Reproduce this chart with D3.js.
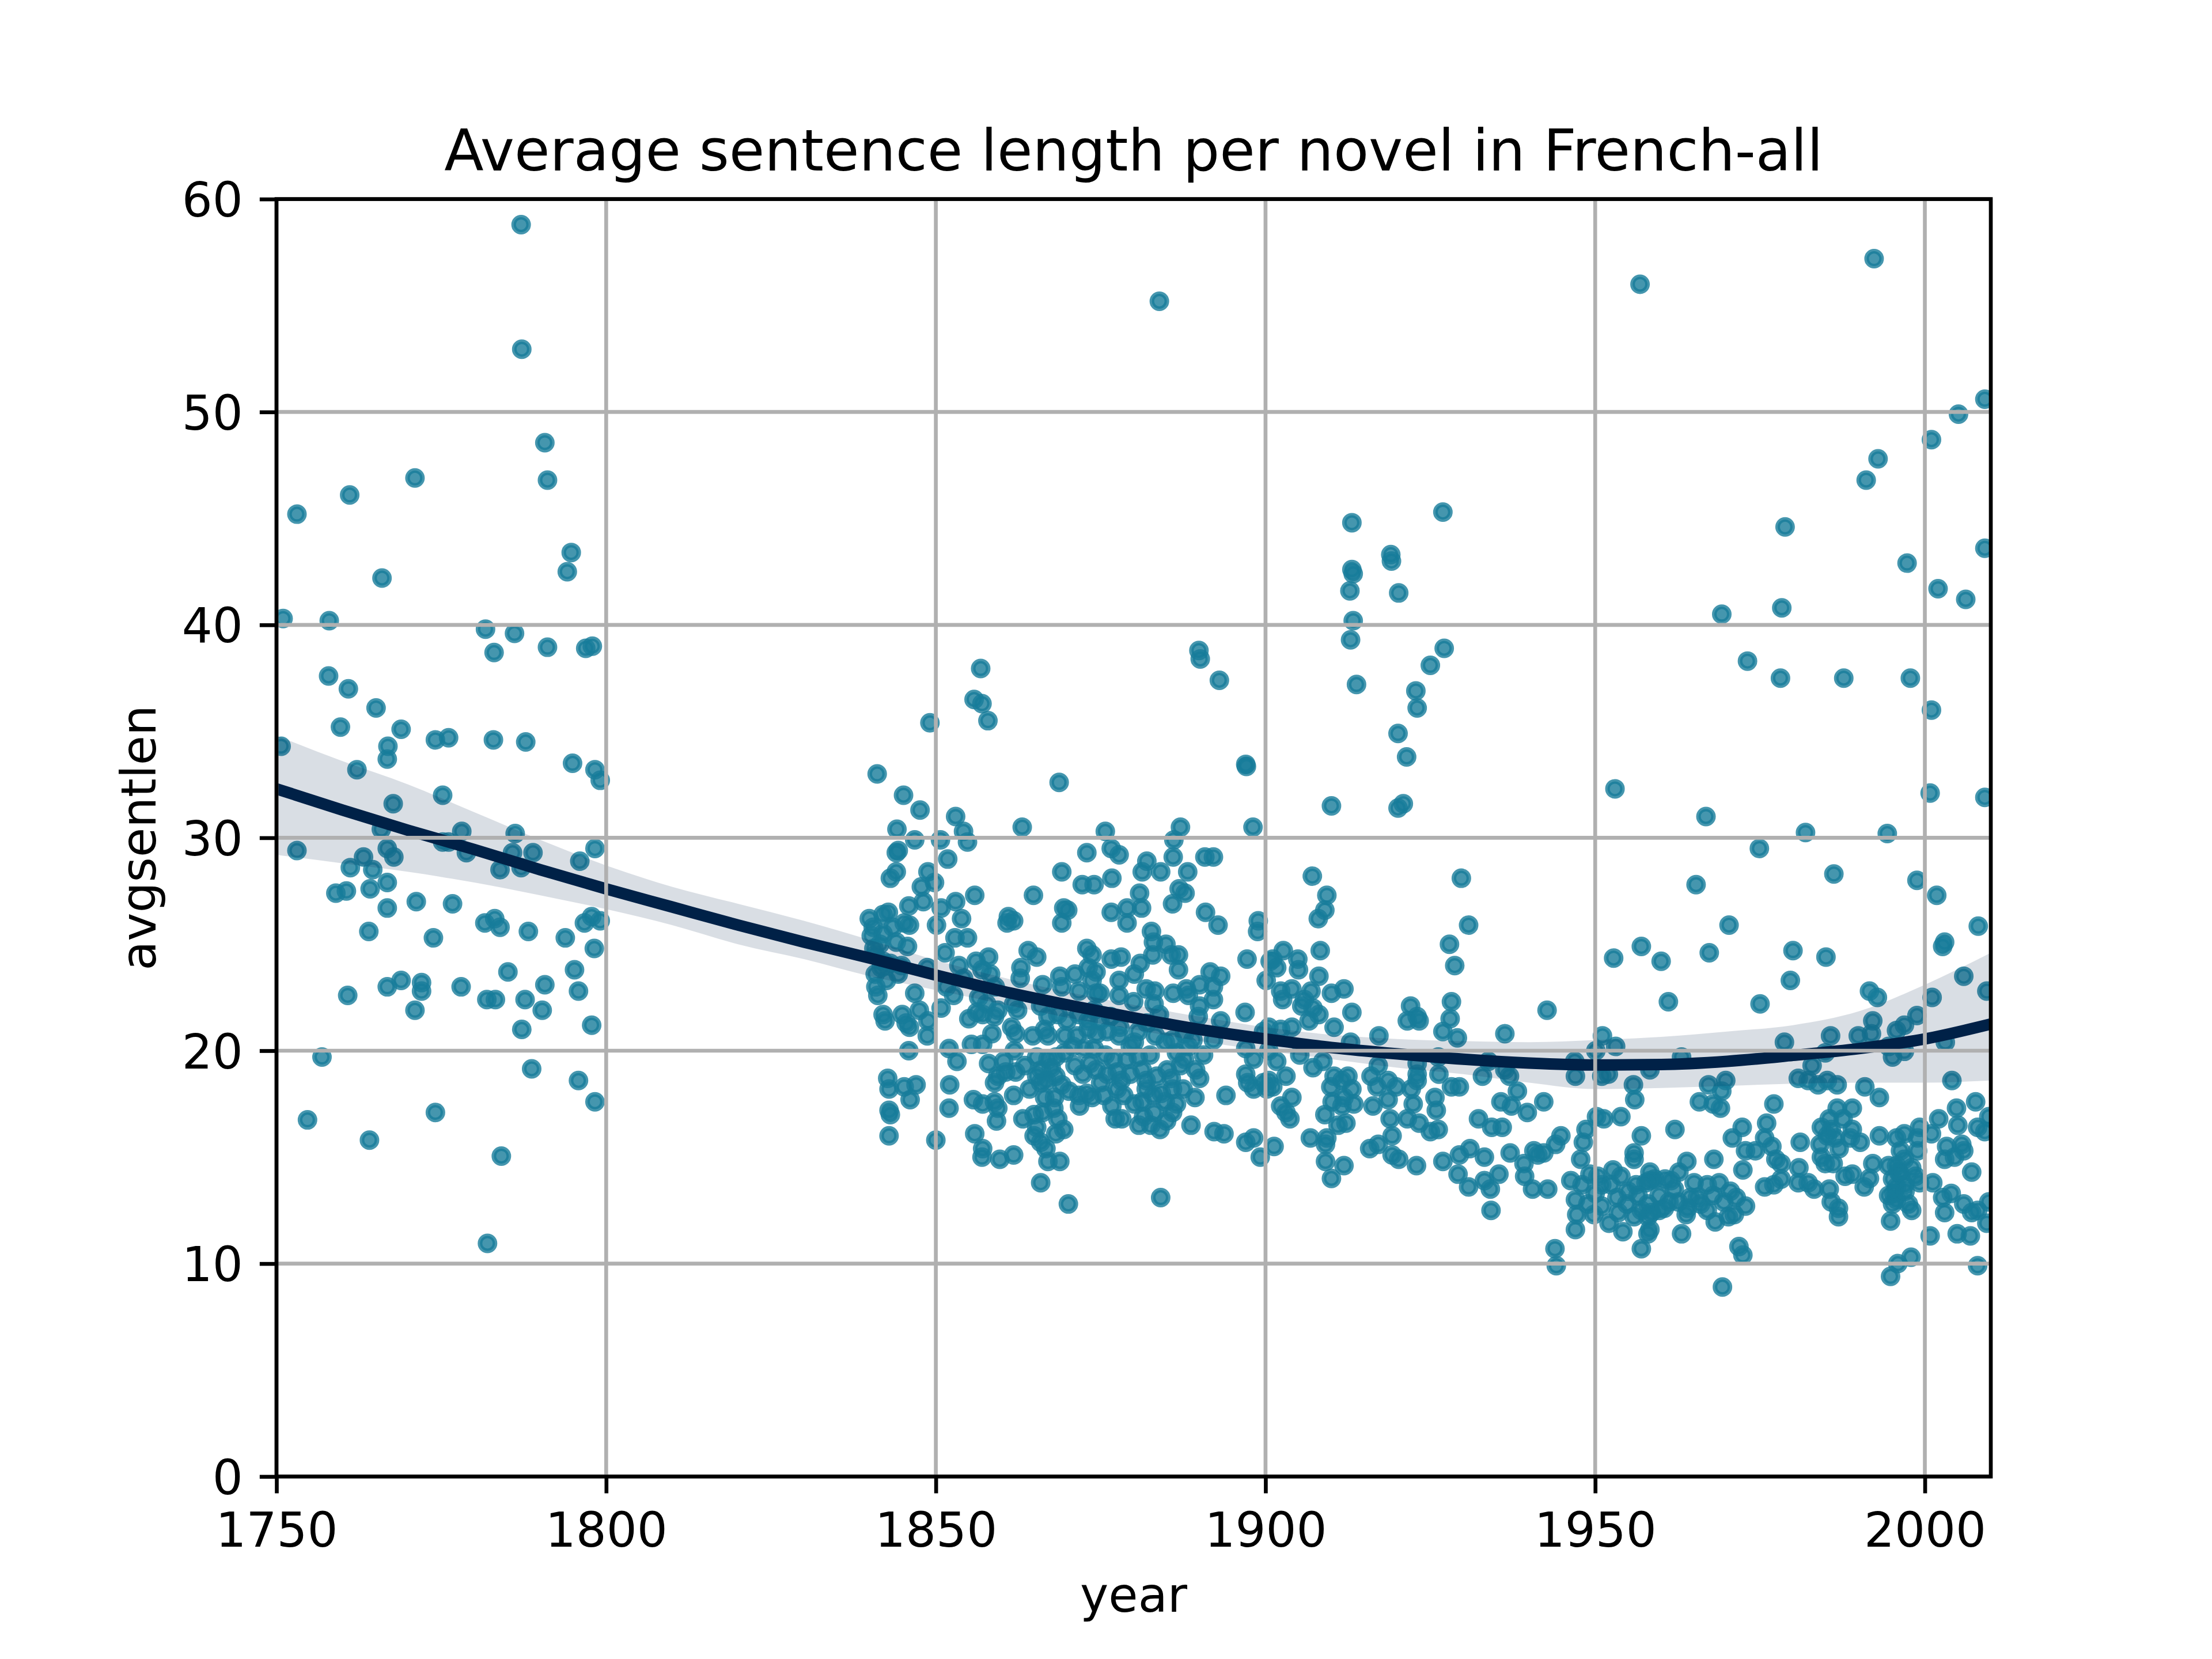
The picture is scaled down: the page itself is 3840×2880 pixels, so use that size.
<!DOCTYPE html>
<html>
<head>
<meta charset="utf-8">
<script src="https://cdn.jsdelivr.net/npm/d3@7"></script>
<style>
  html, body { margin: 0; padding: 0; background: #fff; }
  text { font-family: "DejaVu Sans", sans-serif; fill: #000; }
</style>
</head>
<body>
<div id="chart"></div>
<script>
// [year, avgsentlen] per novel
const novels1750 = [
  [1787.1,58.8],[1787.2,52.95],[1790.7,48.56],[1791.1,46.8],[1761.1,46.1],[1753.1,45.2],[1771.0,46.9],[1794.7,43.4],
  [1794.1,42.5],[1766.0,42.2],[1751.0,40.3],[1758.0,40.2],[1781.7,39.8],[1786.1,39.6],[1783.0,38.7],[1791.1,38.95],
  [1796.9,38.9],[1797.9,39.0],[1757.9,37.6],[1760.9,37.0],[1765.1,36.1],[1759.7,35.2],[1768.9,35.1],[1750.7,34.3],
  [1766.9,34.3],[1766.8,33.7],[1774.1,34.6],[1776.1,34.7],[1782.9,34.6],[1787.8,34.5],[1762.2,33.2],[1794.9,33.5],
  [1798.3,33.2],[1799.1,32.7],[1775.2,32.0],[1767.7,31.6],[1765.9,30.4],[1778.1,30.3],[1786.2,30.2],[1775.2,29.8],
  [1776.1,29.8],[1753.1,29.4],[1766.8,29.5],[1767.8,29.1],[1778.8,29.3],[1785.8,29.3],[1787.1,28.6],[1788.9,29.3],
  [1798.3,29.5],[1783.9,28.5],[1796.0,28.9],[1761.2,28.6],[1763.2,29.1],[1764.6,28.5],[1760.6,27.5],[1759.0,27.4],
  [1764.2,27.6],[1766.8,27.9],[1766.8,26.7],[1771.2,27.0],[1776.7,26.9],[1764.0,25.6],[1773.8,25.3],[1781.6,26.0],
  [1783.1,26.2],[1783.9,25.8],[1788.2,25.6],[1793.8,25.3],[1797.8,26.3],[1796.7,26.0],[1799.1,26.1],[1798.2,24.8],
  [1785.1,23.7],[1760.8,22.6],[1766.8,23.0],[1768.9,23.3],[1772.0,23.2],[1772.0,22.8],[1771.0,21.9],[1778.0,23.0],
  [1781.9,22.4],[1783.2,22.4],[1787.7,22.4],[1790.7,23.1],[1790.3,21.9],[1787.2,21.0],[1795.2,23.8],[1795.8,22.8],
  [1797.8,21.2],[1756.9,19.7],[1788.7,19.15],[1795.8,18.6],[1798.3,17.6],[1754.7,16.75],[1774.1,17.1],[1764.1,15.8],
  [1784.1,15.05],[1782.0,10.95]
]

const novels1840 = [
  [1841.1,33.0],[1845.1,32.0],[1847.6,31.3],[1853.0,31.0],[1854.2,30.3],[1854.8,29.8],[1863.1,30.5],[1868.7,32.6],
  [1844.1,30.4],[1846.8,29.9],[1850.7,29.9],[1844.0,29.3],[1844.3,29.4],[1872.9,29.3],[1851.8,29.0],[1844.0,28.4],
  [1843.1,28.1],[1848.8,28.4],[1847.8,27.7],[1849.8,27.9],[1869.1,28.4],[1872.2,27.8],[1855.9,27.3],[1864.8,27.3],
  [1848.1,27.0],[1845.9,26.8],[1850.8,26.7],[1853.0,27.0],[1853.9,26.2],[1861.0,26.3],[1861.8,26.1],[1860.8,26.0],
  [1869.4,26.7],[1870.0,26.6],[1869.1,26.0],[1839.9,26.2],[1842.0,26.4],[1842.8,26.5],[1845.2,26.0],[1846.0,25.9],
  [1850.1,25.9],[1852.9,25.3],[1854.8,25.3],[1840.5,25.8],[1842.0,25.5],[1844.0,25.1],[1845.7,24.9],[1851.4,24.6],
  [1856.1,24.2],[1858.0,24.4],[1857.0,23.8],[1858.3,23.6],[1864.0,24.7],[1865.3,24.4],[1862.9,23.9],[1862.8,23.4],
  [1872.9,24.8],[1873.7,24.5],[1840.6,24.8],[1840.8,24.5],[1842.0,24.2],[1843.1,24.1],[1840.8,23.6],[1842.5,23.3],
  [1844.3,23.6],[1841.7,23.9],[1840.9,23.0],[1841.2,22.6],[1846.8,22.7],[1848.7,23.9],[1851.6,23.0],[1852.7,22.6],
  [1854.2,23.4],[1856.5,22.5],[1857.7,22.2],[1859.4,21.9],[1858.9,21.6],[1856.2,21.8],[1857.1,21.7],[1861.8,22.2],
  [1862.4,21.9],[1861.5,21.1],[1862.1,20.8],[1866.2,23.1],[1868.8,23.5],[1869.1,23.0],[1871.1,23.6],[1871.7,22.8],
  [1873.1,23.9],[1873.7,23.3],[1865.9,22.1],[1867.0,21.6],[1868.5,21.7],[1869.9,21.4],[1871.7,21.7],[1873.1,21.4],
  [1864.7,20.7],[1867.0,20.7],[1869.6,20.7],[1871.4,20.7],[1873.1,21.0],[1842.0,21.7],[1844.9,21.7],[1845.5,21.3],
  [1846.0,21.1],[1842.3,21.4],[1848.8,21.4],[1848.7,20.7],[1845.9,20.0],[1852.0,20.1],[1853.2,19.5],[1855.4,20.3],
  [1857.1,20.3],[1858.0,19.4],[1861.9,20.0],[1860.6,19.0],[1862.1,19.0],[1859.4,18.8],[1858.9,18.5],[1861.8,17.9],
  [1865.3,19.7],[1867.0,19.6],[1868.2,19.7],[1865.3,18.8],[1866.8,18.6],[1868.2,18.8],[1869.1,18.4],[1865.9,18.5],
  [1871.1,19.3],[1872.3,18.9],[1873.4,19.4],[1871.7,17.9],[1872.9,18.0],[1842.7,18.7],[1842.9,18.2],[1845.2,18.3],
  [1847.0,18.4],[1846.1,17.7],[1842.9,17.2],[1843.1,17.0],[1852.1,18.4],[1852.0,17.3],[1855.7,17.7],[1857.1,17.5],
  [1858.9,17.6],[1859.4,17.3],[1859.2,16.7],[1863.2,16.8],[1864.9,17.0],[1866.2,17.1],[1867.9,17.3],[1868.5,16.8],
  [1869.4,16.3],[1868.2,16.1],[1865.3,16.4],[1864.9,16.0],[1865.9,15.7],[1866.7,15.4],[1867.0,14.8],[1868.8,14.8],
  [1871.8,17.4],[1842.9,16.0],[1850.0,15.8],[1855.9,16.1],[1857.1,15.4],[1857.0,15.0],[1859.7,14.9],[1861.8,15.1],
  [1865.9,13.8],[1870.1,12.8],[1867.5,19.2],[1866.0,19.1],[1869.5,19.9],[1864.2,18.2],[1870.2,18.1],[1841.5,25.0],
  [1843.5,25.8],[1840.2,25.4],[1844.8,24.0],[1860.3,19.5],[1858.5,20.8],[1855.0,21.5],[1850.8,22.0],[1847.5,21.9],
  [1853.5,24.0],[1859.0,23.0],[1866.5,21.0],[1870.8,20.2],[1872.5,20.1],[1863.5,19.3],[1868.0,17.8],[1866.5,17.8],
  [1856.8,37.95],[1855.8,36.5],[1857.0,36.3],[1857.9,35.5],[1849.1,35.4]
]

const novels1875 = [
  [1875.7,30.3],[1887.1,30.5],[1898.1,30.5],[1876.6,29.5],[1877.8,29.2],[1886.1,29.9],[1886.0,29.1],[1890.8,29.1],
  [1892.1,29.1],[1882.0,28.9],[1881.3,28.4],[1884.1,28.4],[1888.2,28.4],[1876.7,28.1],[1874.0,27.8],[1880.9,27.4],
  [1881.2,26.7],[1886.9,27.6],[1887.8,27.4],[1885.9,26.9],[1876.6,26.5],[1879.0,26.7],[1879.0,26.0],[1890.9,26.5],
  [1892.8,25.9],[1898.9,26.1],[1898.8,25.6],[1882.7,25.6],[1883.0,25.1],[1882.9,24.5],[1884.9,25.0],[1885.7,24.5],
  [1886.8,24.5],[1886.8,23.8],[1874.3,23.7],[1876.6,24.3],[1878.1,24.4],[1881.0,24.1],[1880.1,23.6],[1877.8,23.3],
  [1877.8,22.6],[1897.2,24.3],[1900.7,24.2],[1900.1,23.3],[1891.6,23.7],[1893.2,23.5],[1890.0,23.1],[1892.1,23.0],
  [1892.1,22.4],[1881.9,22.9],[1883.2,22.8],[1883.1,22.2],[1886.0,22.7],[1888.0,22.9],[1888.3,22.6],[1874.3,22.7],
  [1874.9,22.7],[1880.0,22.3],[1890.0,22.1],[1889.8,21.6],[1883.9,21.7],[1893.2,21.4],[1896.9,21.8],[1874.0,21.9],
  [1874.9,21.4],[1874.4,20.8],[1876.0,20.9],[1877.9,21.1],[1877.8,20.7],[1880.7,20.9],[1880.1,20.4],[1883.3,20.7],
  [1884.8,20.4],[1885.9,20.5],[1887.7,20.8],[1888.3,20.2],[1890.6,19.8],[1892.1,20.5],[1899.7,20.9],[1897.0,20.1],
  [1898.2,19.6],[1874.0,20.1],[1875.7,19.8],[1876.9,19.6],[1879.0,19.6],[1880.7,19.7],[1874.3,19.1],[1876.0,18.9],
  [1877.5,19.0],[1878.1,18.6],[1879.5,18.9],[1881.3,19.1],[1881.9,18.6],[1885.1,19.1],[1885.7,18.7],[1887.1,19.3],
  [1887.7,19.6],[1890.0,18.7],[1889.4,19.1],[1897.0,18.9],[1897.3,18.5],[1899.7,18.5],[1898.2,18.2],[1873.7,17.8],
  [1875.5,17.9],[1877.5,18.2],[1880.1,17.5],[1881.3,17.6],[1881.9,18.2],[1883.0,17.9],[1884.2,18.0],[1884.8,17.6],
  [1885.9,18.2],[1886.5,17.5],[1876.7,17.4],[1877.2,16.8],[1878.2,16.8],[1880.8,16.5],[1882.6,16.5],[1883.1,17.1],
  [1885.0,16.7],[1885.9,17.1],[1889.3,17.8],[1894.0,17.9],[1888.7,16.5],[1892.2,16.2],[1893.7,16.1],[1897.0,15.7],
  [1898.2,15.9],[1899.2,15.0],[1884.1,13.1],[1900.5,18.6],[1900.2,18.2],[1879.5,20.2],[1882.5,19.8],[1886.5,19.9],
  [1878.5,17.9],[1883.5,18.8],[1887.5,18.2],[1876.5,21.6],[1882.0,21.3],[1889.0,20.5],[1884.0,16.3],[1881.5,16.9],
  [1875.0,18.5],
  [1883.9,55.2],[1889.9,38.8],[1890.1,38.4],[1893.0,37.4],[1897.0,33.45],[1897.1,33.35]
]

const novels1900 = [
  [1926.9,45.3],[1913.1,44.8],[1919.0,43.3],[1919.1,43.0],[1913.1,42.6],[1913.3,42.4],[1912.8,41.6],[1920.2,41.5],
  [1913.3,40.2],[1912.9,39.3],[1927.1,38.9],[1925.0,38.1],[1913.8,37.2],[1922.8,36.9],[1923.0,36.1],[1920.1,34.9],
  [1921.4,33.8],[1910.0,31.5],[1920.1,31.4],[1920.9,31.6],[1907.1,28.2],[1909.3,27.3],[1909.0,26.6],[1908.0,26.2],
  [1929.7,28.1],[1930.8,25.9],[1927.9,25.0],[1928.7,24.0],[1902.7,24.7],[1904.9,24.3],[1905.0,23.8],[1908.3,24.7],
  [1908.1,23.5],[1901.1,24.3],[1901.7,23.9],[1902.3,22.8],[1904.0,22.9],[1902.6,22.4],[1905.9,22.4],[1906.9,22.8],
  [1910.0,22.7],[1911.9,22.9],[1905.5,22.1],[1907.2,22.0],[1908.1,21.7],[1913.1,21.8],[1906.6,21.4],[1910.4,21.1],
  [1900.5,21.1],[1902.3,21.0],[1904.0,21.1],[1922.0,22.1],[1923.0,21.6],[1921.5,21.4],[1923.3,21.4],[1928.2,22.3],
  [1928.0,21.5],[1926.9,20.9],[1929.1,20.6],[1917.2,20.7],[1936.3,20.8],[1942.7,21.9],[1912.9,20.4],[1900.5,20.0],
  [1901.7,19.5],[1903.1,18.8],[1905.2,19.8],[1907.2,19.2],[1908.7,19.5],[1901.1,18.3],[1910.4,18.8],[1911.6,18.6],
  [1912.5,18.8],[1913.1,18.2],[1911.9,17.8],[1909.9,18.3],[1910.1,17.6],[1911.6,17.4],[1913.4,17.5],[1916.0,18.8],
  [1917.1,19.3],[1916.9,18.3],[1918.6,18.6],[1919.8,18.3],[1916.3,17.4],[1918.6,17.7],[1922.1,18.2],[1922.4,17.5],
  [1923.0,19.4],[1923.0,18.9],[1923.0,18.6],[1926.2,19.7],[1926.3,18.9],[1928.2,18.3],[1929.4,18.3],[1925.7,17.8],
  [1925.9,17.2],[1933.8,19.5],[1932.9,18.8],[1936.3,19.1],[1937.0,18.8],[1938.2,18.1],[1935.7,17.6],[1937.3,17.4],
  [1942.2,17.6],[1939.7,17.1],[1904.0,17.8],[1902.3,17.4],[1903.1,17.1],[1903.7,16.8],[1909.0,17.0],[1912.2,16.6],
  [1911.0,16.5],[1906.8,15.9],[1909.3,15.9],[1909.1,15.6],[1901.3,15.5],[1918.9,16.8],[1919.2,16.0],[1921.5,16.8],
  [1923.3,16.6],[1925.0,16.2],[1926.2,16.3],[1915.8,15.4],[1917.1,15.6],[1919.2,15.1],[1920.2,14.9],[1922.9,14.6],
  [1909.1,14.8],[1910.0,14.0],[1911.9,14.6],[1926.9,14.8],[1929.4,15.1],[1931.0,15.4],[1929.2,14.2],[1930.8,13.6],
  [1932.3,16.8],[1934.3,16.4],[1935.9,16.4],[1933.2,15.0],[1933.2,13.9],[1934.1,13.5],[1934.2,12.5],[1935.4,14.2],
  [1937.1,15.2],[1939.2,14.7],[1939.3,14.1],[1940.7,15.3],[1941.3,15.1],[1940.5,13.5],[1942.8,13.5]
]

const novels1945 = [
  [1970.3,25.9],[1957.0,24.9],[1952.8,24.35],[1960.0,24.2],[1967.3,24.6],[1961.1,22.3],[1975.0,22.2],[1951.1,20.7],
  [1950.1,20.0],[1953.1,20.2],[1946.9,19.5],[1947.0,18.8],[1951.0,18.8],[1952.0,18.9],[1963.1,19.7],[1958.3,19.1],
  [1955.8,18.4],[1956.0,17.7],[1967.2,18.4],[1969.8,18.6],[1969.2,18.1],[1965.8,17.6],[1967.9,17.5],[1969.0,17.3],
  [1977.1,17.5],[1950.2,16.9],[1951.3,16.8],[1953.9,16.9],[1948.6,16.3],[1944.8,16.0],[1944.0,15.6],[1948.2,15.7],
  [1942.2,15.2],[1957.0,16.0],[1962.1,16.3],[1970.8,15.9],[1972.3,16.4],[1976.0,16.6],[1975.7,15.9],[1972.8,15.3],
  [1974.3,15.3],[1955.9,15.2],[1955.9,14.9],[1947.8,14.9],[1968.0,14.9],[1963.9,14.8],[1972.4,14.4],[1958.3,14.3],
  [1958.3,13.9],[1949.2,14.2],[1950.4,14.1],[1952.7,14.4],[1953.9,14.1],[1946.3,13.9],[1959.0,13.97],[1960.6,13.97],
  [1962.7,14.3],[1965.0,13.8],[1967.0,13.7],[1968.8,13.8],[1970.5,13.4],[1975.7,13.6],[1948.0,13.7],[1951.0,13.7],
  [1952.4,13.7],[1956.2,13.7],[1957.7,13.8],[1947.0,13.0],[1948.9,12.8],[1951.0,12.7],[1953.3,13.1],[1954.8,12.8],
  [1956.5,13.2],[1958.0,12.8],[1959.7,13.2],[1961.2,12.9],[1962.6,12.9],[1964.4,13.1],[1965.5,13.1],[1967.9,13.2],
  [1971.4,13.1],[1972.8,12.7],[1947.2,12.3],[1949.8,12.3],[1952.1,11.9],[1954.2,11.5],[1955.9,12.2],[1958.0,12.2],
  [1958.5,12.4],[1959.7,12.5],[1963.8,12.3],[1967.0,12.5],[1968.2,11.96],[1970.2,12.2],[1971.1,12.3],[1947.0,11.6],
  [1958.0,11.4],[1958.3,11.6],[1963.1,11.4],[1957.0,10.7],[1943.9,10.7],[1944.1,9.9],[1971.8,10.8],[1972.4,10.4],
  [1969.3,8.9],[1955.0,13.4],[1957.0,12.5],[1960.5,12.6],[1962.0,13.5],[1966.0,12.8],[1969.5,12.9],[1953.5,12.4],
  [1950.0,13.3],[1961.5,13.9],[1964.0,12.6],
  [1956.8,56.0],[1969.2,40.5],[1973.1,38.3],[1953.0,32.3],[1966.8,31.0],[1974.9,29.5],[1965.3,27.8]
]

const novels1980 = [
  [2001.8,27.3],[2008.1,25.85],[2003.0,25.1],[2002.7,24.9],[1980.0,24.7],[1985.0,24.4],[1979.6,23.3],[1991.6,22.8],
  [1992.8,22.5],[2005.9,23.5],[2001.1,22.5],[2009.4,22.8],[1992.1,21.4],[1998.8,21.65],[1996.9,21.2],[1995.7,20.95],
  [1985.7,20.7],[1989.9,20.7],[1991.9,20.8],[1978.7,20.4],[2003.1,20.4],[1984.9,19.9],[1995.1,19.7],[1996.9,19.97],
  [1994.5,20.2],[1982.9,19.3],[1980.8,18.7],[1982.3,18.6],[1983.8,18.4],[1985.2,18.6],[1986.7,18.4],[1990.9,18.3],
  [1993.1,17.8],[2004.1,18.6],[2004.8,17.3],[2005.0,16.5],[2007.7,17.6],[2002.1,16.8],[2009.7,16.9],[1976.8,15.5],
  [1977.4,14.9],[1978.2,14.7],[1986.7,17.3],[1989.0,17.3],[1985.5,16.8],[1987.6,16.8],[1984.3,16.4],[1985.2,16.0],
  [1986.4,15.9],[1989.0,16.3],[1988.7,15.9],[1981.1,15.7],[1984.1,15.6],[1990.2,15.7],[1993.1,16.0],[1995.7,15.9],
  [1996.9,16.1],[1999.2,16.4],[2001.0,16.1],[1998.9,15.9],[1998.9,15.3],[1996.3,15.3],[1996.9,14.9],[2008.0,16.4],
  [2009.1,16.2],[2003.3,15.5],[2005.6,15.6],[2003.0,14.9],[2004.5,15.0],[2005.9,15.3],[1984.3,15.0],[1984.9,14.7],
  [1986.1,14.7],[1980.9,14.5],[1992.1,14.7],[1991.6,14.0],[1990.8,13.6],[1989.0,14.2],[1987.9,14.1],[1994.5,14.6],
  [1995.7,14.6],[1996.3,14.2],[1995.1,13.97],[1995.7,13.6],[1996.9,13.7],[1998.0,14.5],[1998.6,14.1],[1999.2,13.8],
  [2001.2,13.8],[2007.1,14.3],[1977.1,13.7],[1978.2,13.97],[1980.8,13.8],[1982.3,13.8],[1983.2,13.5],[1985.5,13.5],
  [1985.8,12.9],[1986.9,12.6],[1986.9,12.2],[1994.5,13.2],[1995.1,12.8],[1995.7,13.0],[1997.5,12.8],[1998.0,12.5],
  [1994.8,12.0],[2002.7,13.1],[2004.0,13.3],[2003.0,12.4],[2005.9,12.8],[2007.1,12.4],[2008.0,12.5],[2009.4,11.9],
  [2009.7,12.9],[2000.8,11.3],[2004.9,11.4],[2006.9,11.3],[1997.9,10.3],[1995.9,10.0],[1994.8,9.4],[2008.0,9.9],
  [1996.0,14.3],[1995.3,13.3],[1997.0,13.4],[1985.8,16.3],[1987.0,15.4],
  [1992.3,57.2],[2009.1,50.6],[2005.1,49.9],[2001.0,48.7],[1992.9,47.8],[1991.1,46.8],[1978.8,44.6],[2009.1,43.6],
  [1997.3,42.9],[2002.0,41.7],[2006.2,41.2],[1978.3,40.8],[1978.1,37.5],[1987.7,37.5],[1997.8,37.5],[2001.0,36.0],
  [1981.9,30.25],[1994.3,30.2],[2000.8,32.1],[2009.1,31.9],[1986.2,28.3],[1998.8,28.0]
]

// fitted trend and its confidence band
const fitYears = [1750,1760,1770,1780,1790,1800,1810,1820,1830,1840,1850,1860,1870,1880,1890,1900,1910,1920,1930,1940,1950,1960,1970,1980,1990,2000,2010]
const fitValues = [32.3,31.3,30.35,29.45,28.5,27.6,26.75,25.9,25.1,24.35,23.55,22.8,22.15,21.55,21.0,20.55,20.15,19.85,19.6,19.42,19.33,19.35,19.5,19.78,20.1,20.55,21.25]
const ciLow = [29.2,28.8,28.4,27.9,27.3,26.65,25.9,25.0,24.3,23.5,22.85,22.2,21.55,21.0,20.45,20.0,19.6,19.2,18.9,18.5,18.2,18.25,18.35,18.45,18.5,18.5,18.6]
const ciHigh = [34.8,33.6,32.5,31.2,29.9,28.7,27.7,26.9,26.1,25.2,24.25,23.45,22.75,22.15,21.6,21.1,20.75,20.55,20.45,20.4,20.5,20.65,20.9,21.2,21.85,23.1,24.6]

const xTicks = [1750, 1800, 1850, 1900, 1950, 2000]
const yTicks = [0, 10, 20, 30, 40, 50, 60]

const W = 3840
const H = 2880
const margin = { top: 345.6, right: 384, bottom: 316.8, left: 480 }
const pt = 600 / 72
const dotColor = "#167c9a"
const lineColor = "#002147"

const novels = [].concat(novels1750, novels1840, novels1875, novels1900, novels1945, novels1980)
const fit = fitYears.map((yr, i) => ({ year: yr, v: fitValues[i], lo: ciLow[i], hi: ciHigh[i] }))

const x = d3.scaleLinear().domain([1750, 2010]).range([margin.left, W - margin.right])
const y = d3.scaleLinear().domain([0, 60]).range([H - margin.bottom, margin.top])

const svg = d3.select("#chart")
  .append("svg")
  .attr("width", W)
  .attr("height", H)
  .attr("viewBox", `0 0 ${W} ${H}`)

svg.append("rect").attr("width", W).attr("height", H).attr("fill", "#fff")

svg.append("defs").append("clipPath")
  .attr("id", "plot-clip")
  .append("rect")
  .attr("x", x(1750))
  .attr("y", y(60))
  .attr("width", x(2010) - x(1750))
  .attr("height", y(0) - y(60))

const plot = svg.append("g").attr("clip-path", "url(#plot-clip)")

// scatter
plot.append("g")
  .selectAll("circle")
  .data(novels)
  .enter()
  .append("circle")
  .attr("cx", d => x(d[0]))
  .attr("cy", d => y(d[1]))
  .attr("r", 13)
  .attr("fill", dotColor)
  .attr("fill-opacity", 0.8)
  .attr("stroke", dotColor)
  .attr("stroke-opacity", 0.8)
  .attr("stroke-width", 8)

// confidence band
plot.append("path")
  .datum(fit)
  .attr("d", d3.area()
    .x(d => x(d.year))
    .y0(d => y(d.lo))
    .y1(d => y(d.hi))
    .curve(d3.curveMonotoneX))
  .attr("fill", lineColor)
  .attr("fill-opacity", 0.15)

// grid (matplotlib draws it above the scatter)
const grid = svg.append("g").attr("stroke", "#b0b0b0").attr("stroke-width", 0.8 * pt)
grid.selectAll(".gx")
  .data(xTicks)
  .enter()
  .append("line")
  .attr("x1", d => x(d)).attr("x2", d => x(d))
  .attr("y1", y(0)).attr("y2", y(60))
grid.selectAll(".gy")
  .data(yTicks)
  .enter()
  .append("line")
  .attr("y1", d => y(d)).attr("y2", d => y(d))
  .attr("x1", x(1750)).attr("x2", x(2010))

// trend line
plot.append("path")
  .datum(fit)
  .attr("d", d3.line()
    .x(d => x(d.year))
    .y(d => y(d.v))
    .curve(d3.curveMonotoneX))
  .attr("fill", "none")
  .attr("stroke", lineColor)
  .attr("stroke-width", 20)

// axes
const tickLen = 3.5 * pt
const xAxis = d3.axisBottom(x)
  .tickValues(xTicks)
  .tickFormat(d3.format("d"))
  .tickSize(tickLen)
  .tickPadding(3.5 * pt)
const yAxis = d3.axisLeft(y)
  .tickValues(yTicks)
  .tickFormat(d3.format("d"))
  .tickSize(tickLen)
  .tickPadding(3.5 * pt)

const gx = svg.append("g")
  .attr("transform", `translate(0,${y(0)})`)
  .call(xAxis)
gx.select(".domain").remove()
gx.selectAll("line").attr("stroke", "#000").attr("stroke-width", 0.8 * pt)
gx.selectAll("text")
  .attr("font-size", 10 * pt)
  .attr("font-family", "DejaVu Sans")
  .attr("fill", "#000")
  .attr("dy", null)
  .attr("y", tickLen + 3.5 * pt + 0.76 * 10 * pt)

const gy = svg.append("g")
  .attr("transform", `translate(${x(1750)},0)`)
  .call(yAxis)
gy.select(".domain").remove()
gy.selectAll("line").attr("stroke", "#000").attr("stroke-width", 0.8 * pt)
gy.selectAll("text")
  .attr("font-size", 10 * pt)
  .attr("font-family", "DejaVu Sans")
  .attr("fill", "#000")
  .attr("dy", "0.36em")

// spines
svg.append("rect")
  .attr("x", x(1750))
  .attr("y", y(60))
  .attr("width", x(2010) - x(1750))
  .attr("height", y(0) - y(60))
  .attr("fill", "none")
  .attr("stroke", "#000")
  .attr("stroke-width", 0.8 * pt)

// labels
svg.append("text")
  .attr("x", (x(1750) + x(2010)) / 2)
  .attr("y", 296)
  .attr("text-anchor", "middle")
  .attr("font-size", 12 * pt)
  .text("Average sentence length per novel in French-all")

svg.append("text")
  .attr("x", (x(1750) + x(2010)) / 2)
  .attr("y", 2798)
  .attr("text-anchor", "middle")
  .attr("font-size", 10 * pt)
  .text("year")

svg.append("text")
  .attr("transform", `translate(270,${(y(0) + y(60)) / 2}) rotate(-90)`)
  .attr("text-anchor", "middle")
  .attr("font-size", 10 * pt)
  .text("avgsentlen")
</script>
</body>
</html>
